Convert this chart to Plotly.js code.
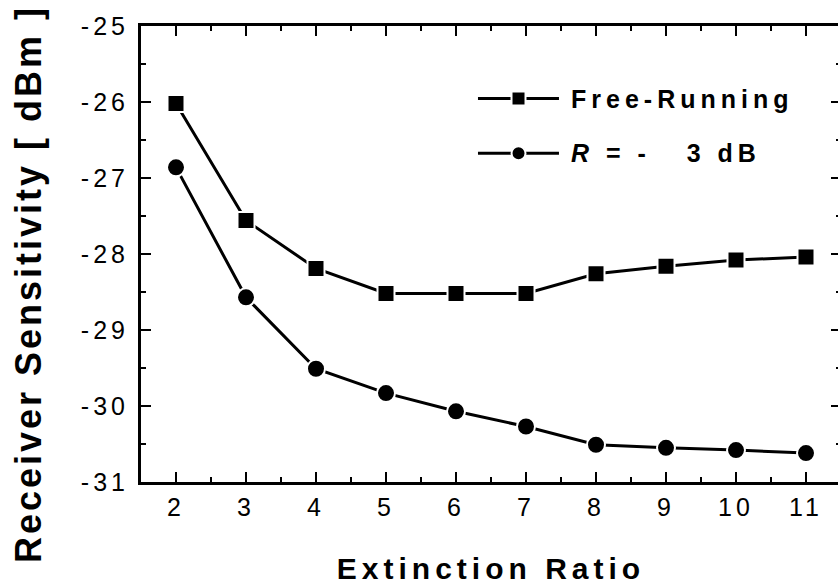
<!DOCTYPE html>
<html>
<head>
<meta charset="utf-8">
<script src="https://cdn.plot.ly/plotly-3.0.1.min.js"></script>
<style>
  html, body { margin: 0; padding: 0; overflow: hidden; background: #fff; }
  #chart { width: 843px; height: 588px; }
  .xtick text, .ytick text { letter-spacing: 4px; }
  .g-xtitle text { letter-spacing: 5px; }
  .g-ytitle text { letter-spacing: 3px; }
  .g-ytitle { transform: translate(-25px, 30px); }
  .annotation-text { letter-spacing: 5px; }
</style>
</head>
<body>
<div id="chart"></div>
<script>
// Receiver sensitivity versus extinction ratio
const extinctionRatio = [2, 3, 4, 5, 6, 7, 8, 9, 10, 11];
const freeRunning   = [-26.02, -27.56, -28.19, -28.52, -28.52, -28.52, -28.26, -28.16, -28.08, -28.04];
const injectionLock = [-26.86, -28.57, -29.51, -29.83, -30.07, -30.27, -30.51, -30.55, -30.58, -30.62];
const seriesNames = ['Free-Running', '<i>R</i> = -\u00a0\u00a0\u00a03 dB'];
const xTickValues = [2, 3, 4, 5, 6, 7, 8, 9, 10, 11];
const xTickLabels = ['2', '3', '4', '5', '6', '7', '8', '9', '10', '11'];
const yTickValues = [-31, -30, -29, -28, -27, -26, -25];
const yTickLabels = ['-31', '-30', '-29', '-28', '-27', '-26', '-25'];

const FONT = 'Liberation Sans, Arial, Helvetica, sans-serif';
const INK = '#000000';

function series(y, name, symbol, size) {
  return {
    x: extinctionRatio, y: y, name: name, type: 'scatter', mode: 'lines+markers',
    line: { color: INK, width: 3 },
    marker: { symbol: symbol, size: size, color: INK, line: { color: '#ffffff', width: 2 } },
    showlegend: false, cliponaxis: false
  };
}

const traces = [
  series(freeRunning, seriesNames[0], 'square', 17),
  series(injectionLock, seriesNames[1], 'circle', 18)
];

// hand-built key: line - marker - line, then the label
const keyX0 = 0.4814, keyX1 = 0.5971, keyXm = 0.5393, keyText = 0.6114;
const keyRows = [0.8408, 0.7208];
const shapes = [];
const annotations = [];
keyRows.forEach((ky, i) => {
  shapes.push({ type: 'line', xref: 'paper', yref: 'paper', x0: keyX0, x1: keyX1, y0: ky, y1: ky,
                line: { color: INK, width: 3 } });
  const half = 7;
  shapes.push({ type: i === 0 ? 'rect' : 'circle', xref: 'paper', yref: 'paper',
                xsizemode: 'pixel', ysizemode: 'pixel', xanchor: keyXm, yanchor: ky,
                x0: -half, x1: half, y0: -half, y1: half,
                fillcolor: INK, line: { color: '#ffffff', width: 2 } });
  annotations.push({ xref: 'paper', yref: 'paper', x: keyText, y: ky, xanchor: 'left', yanchor: 'middle',
                     text: seriesNames[i], showarrow: false,
                     font: { family: FONT, size: 25, color: INK, weight: 'bold' } });
});

const axisCommon = {
  showline: true, linecolor: INK, linewidth: 3, mirror: 'ticks',
  ticks: 'inside', ticklen: 10, tickwidth: 2.5, tickcolor: INK,
  showgrid: false, zeroline: false, fixedrange: true,
  tickfont: { family: FONT, size: 25, color: INK }
};

const layout = {
  width: 843, height: 588,
  margin: { l: 141, r: 2, t: 26, b: 106 },
  paper_bgcolor: '#ffffff', plot_bgcolor: '#ffffff',
  font: { family: FONT, color: INK },
  xaxis: Object.assign({}, axisCommon, {
    range: [1.5, 11.5], tickvals: xTickValues, ticktext: xTickLabels,
    minor: { ticks: 'inside', ticklen: 5, tickwidth: 2.5, tickcolor: INK, dtick: 0.5, tick0: 0, showgrid: false },
    ticklabelstandoff: 1,
    title: { text: 'Extinction Ratio', standoff: 38, font: { family: FONT, size: 30, color: INK, weight: 'bold' } }
  }),
  yaxis: Object.assign({}, axisCommon, {
    range: [-31, -25], tickvals: yTickValues, ticktext: yTickLabels,
    minor: { ticks: 'inside', ticklen: 5, tickwidth: 2.5, tickcolor: INK, dtick: 0.5, tick0: 0, showgrid: false },
    ticklabelstandoff: 4,
    title: { text: 'Receiver Sensitivity [ dBm ]', standoff: 4, font: { family: FONT, size: 36, color: INK, weight: 'bold' } }
  }),
  shapes: shapes,
  annotations: annotations,
  showlegend: false
};

Plotly.newPlot('chart', traces, layout, { displayModeBar: false, staticPlot: true });
</script>
</body>
</html>
